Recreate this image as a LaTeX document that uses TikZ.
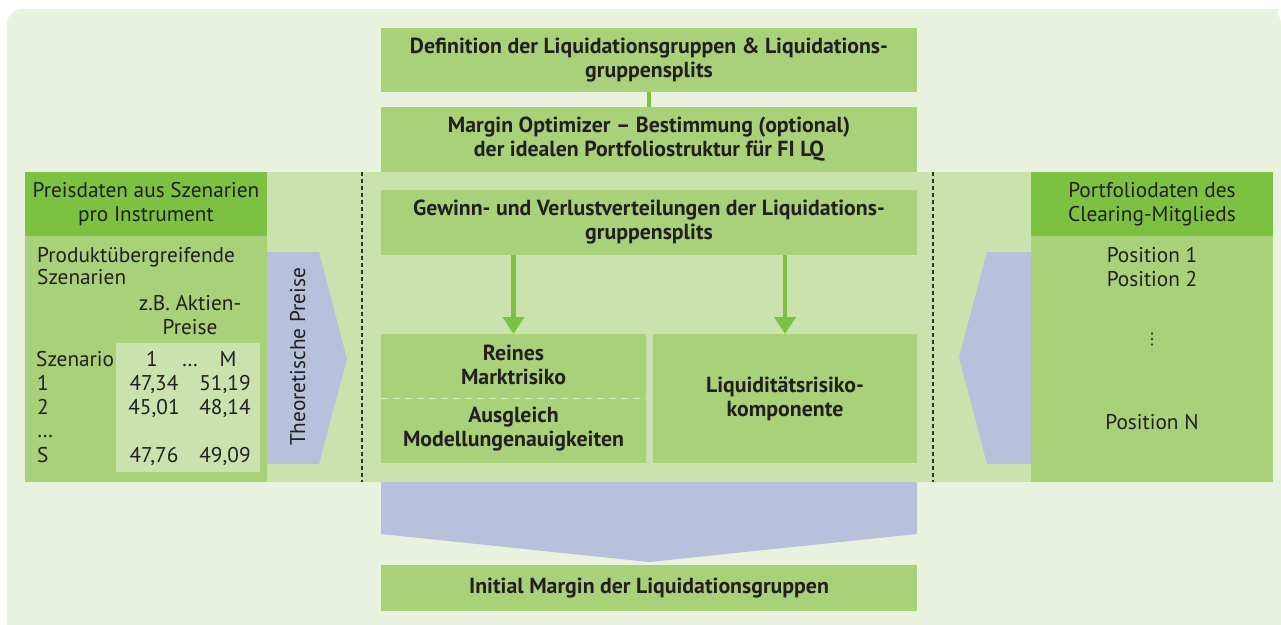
\documentclass[tikz,border=0pt]{standalone}
\usepackage{fontspec}
\setmainfont{PT Sans}
\newfontfamily\dejavufont{DejaVu Sans}
\usetikzlibrary{arrows.meta}
\definecolor{bgc}{HTML}{E9F2DE}
\definecolor{bandc}{HTML}{CAE2AE}
\definecolor{bodyc}{HTML}{A9D17A}
\definecolor{headc}{HTML}{7DC142}
\definecolor{bluec}{HTML}{B8C1DC}
\definecolor{txtc}{HTML}{231F20}
\definecolor{dashc}{HTML}{333333}
\definecolor{tablec}{HTML}{CAE2AE}
\definecolor{wdashc}{HTML}{D3E8BE}
\begin{document}
\begin{tikzpicture}[x=1pt,y=-1pt,
  reg/.style={font=\fontsize{21.3}{23.5}\selectfont, text=txtc, inner sep=0pt},
  bld/.style={font=\fontsize{21.8}{24}\selectfont\bfseries, text=txtc, inner sep=0pt, align=center},
  midbox/.style={fill=bodyc, inner sep=0pt, minimum width=536pt, text=txtc, align=center,
                 font=\fontsize{21.8}{24}\selectfont\bfseries},
  plainbox/.style={inner sep=0pt, outer sep=0pt},
  sepdash/.style={draw=dashc, line width=1.4pt, dash pattern=on 4pt off 3pt},
  greenline/.style={draw=headc, line width=4.6pt},
  greenarrow/.style={draw=headc, line width=4.6pt, -{Triangle[length=17pt,width=21pt]}},
]
\useasboundingbox (0,0) rectangle (1281,624);
% background
\fill[bgc, rounded corners=15pt] (7,9) rectangle (1281,650);
\fill[bgc] (40,9) rectangle (1278,624);
\fill[bgc] (7,40) rectangle (1281,624);
% band
\fill[bandc] (25,172) rectangle (1273,482);
% blue shapes
\fill[bluec] (267,252) -- (319,252) -- (347,359) -- (319,464) -- (267,464) -- cycle;
\fill[bluec] (1031,252) -- (987,252) -- (959,357) -- (987,464) -- (1031,464) -- cycle;
\fill[bluec] (381,482) -- (917,482) -- (917,534) -- (649,562) -- (381,534) -- cycle;

% left box
\node[plainbox, fill=headc, minimum width=242pt, minimum height=64pt] (lhead) at (146,204) {};
\node[plainbox, fill=bodyc, minimum width=242pt, minimum height=246pt] (lbody) at (146,359) {};
\node[plainbox, fill=tablec, minimum width=144pt, minimum height=129pt] (ltable) at (188,407.5) {};
% right box
\node[plainbox, fill=headc, minimum width=242pt, minimum height=64pt] (rhead) at (1152,204) {};
\node[plainbox, fill=bodyc, minimum width=242pt, minimum height=246pt] (rbody) at (1152,359) {};

% middle boxes
\node[midbox, minimum height=64pt] (def) at (649,60) {Definition der Liquidationsgruppen \& Liquidations-\\gruppensplits};
\node[midbox, minimum height=65pt] (opt) at (649,139.5) {Margin Optimizer -- Bestimmung (optional)\\der idealen Portfoliostruktur für FI LQ};
\node[midbox, minimum height=65pt] (gew) at (649,222.5) {Gewinn- und Verlustverteilungen der Liquidations-\\gruppensplits};
\node[plainbox, fill=bodyc, minimum width=265pt, minimum height=129pt] (rein) at (513.5,398.5) {};
\node[plainbox, fill=bodyc, minimum width=264pt, minimum height=129pt, text=txtc, align=center,
      font=\fontsize{21.8}{24}\selectfont\bfseries] (liq) at (785,398.5) {Liquiditätsrisiko-\\komponente};
\node[midbox, minimum height=46pt] (init) at (649,588) {Initial Margin der Liquidationsgruppen};

% connectors
\draw[greenline] (def.south) -- (opt.north);
\draw[greenarrow] (gew.south -| rein.north) -- (rein.north);
\draw[greenarrow] (gew.south -| liq.north) -- (liq.north);

% dashed separators
\coordinate (dl1) at (362,172);
\coordinate (dl2) at (362,482);
\coordinate (dr1) at (933,172);
\coordinate (dr2) at (933,482);
\draw[sepdash] (dl1) -- (dl2);
\draw[sepdash] (dr1) -- (dr2);
\coordinate (wd1) at (rein.west);
\coordinate (wd2) at (rein.east);
\draw[draw=wdashc, line width=1.8pt, dash pattern=on 7pt off 5pt] (wd1) -- (wd2);

% texts inside Reines box
\node[bld] (reintxt) at (513.5,365) {Reines\\Marktrisiko};
\node[bld] (ausgl) at (513.5,429) {Ausgleich\\Modellungenauigkeiten};

% left box texts
\node[reg, align=center] (lheadtxt) at (lhead) {Preisdaten aus Szenarien\\pro Instrument};
\node[reg, anchor=base west] (prod) at (37,262) {Produktübergreifende};
\node[reg, anchor=base west] (szen) at (37,284) {Szenarien};
\node[reg, anchor=base] (zb) at (190,310) {z.B. Aktien-};
\node[reg, anchor=base] (preise) at (190,334) {Preise};
\node[reg, anchor=base west] (szo) at (36,366) {Szenario};
\node[reg, anchor=base] (c1) at (152,366) {1};
\node[reg, anchor=base] (cd) at (190,366) {…};
\node[reg, anchor=base] (cm) at (228,366) {M};
\node[reg, anchor=base west] (r1) at (37,390) {1};
\node[reg, anchor=base] (v11) at (154,390) {47,34};
\node[reg, anchor=base] (v12) at (225,390) {51,19};
\node[reg, anchor=base west] (r2) at (37,414) {2};
\node[reg, anchor=base] (v21) at (154,414) {45,01};
\node[reg, anchor=base] (v22) at (225,414) {48,14};
\node[reg, anchor=base west] (rd) at (37,437) {…};
\node[reg, anchor=base west] (rs) at (37,462) {S};
\node[reg, anchor=base] (vs1) at (154,462) {47,76};
\node[reg, anchor=base] (vs2) at (225,462) {49,09};

% rotated label
\node[reg, anchor=base, rotate=90] (theo) at (305,357) {Theoretische Preise};

% right box texts
\node[reg, align=center] (rheadtxt) at (rhead) {Portfoliodaten des\\Clearing-Mitglieds};
\node[reg, anchor=base] (p1) at (1152,262) {Position 1};
\node[reg, anchor=base] (p2) at (1152,286) {Position 2};
\node[inner sep=0pt, text=txtc, font=\dejavufont\fontsize{16}{18}\selectfont] (pd) at (1152,340) {⋮};
\node[reg, anchor=base] (pn) at (1152,429) {Position N};
\end{tikzpicture}
\end{document}
